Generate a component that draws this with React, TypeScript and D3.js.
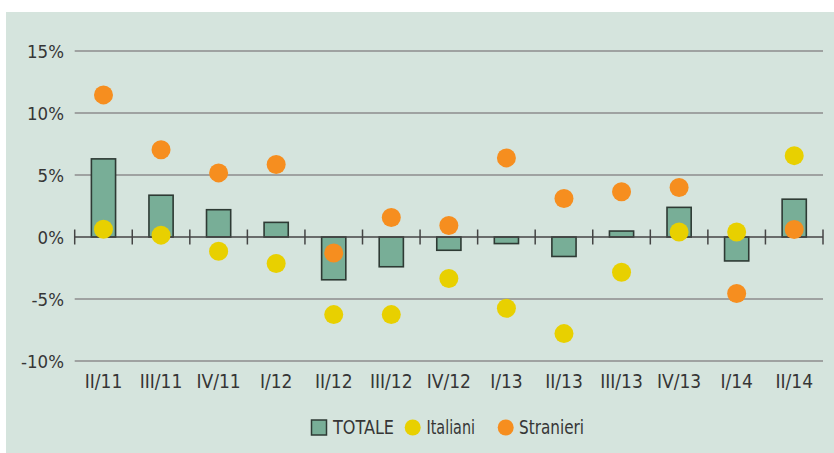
import React from "react";
import * as d3 from "d3";

const categories = ["II/11", "III/11", "IV/11", "I/12", "II/12", "III/12", "IV/12", "I/13", "II/13", "III/13", "IV/13", "I/14", "II/14"];
const totale = [6.3, 3.37, 2.2, 1.18, -3.45, -2.4, -1.07, -0.53, -1.57, 0.48, 2.39, -1.93, 3.05];
const italiani = [0.62, 0.15, -1.15, -2.14, -6.26, -6.26, -3.34, -5.75, -7.79, -2.84, 0.4, 0.4, 6.56];
const stranieri = [11.46, 7.04, 5.17, 5.84, -1.29, 1.58, 0.92, 6.38, 3.11, 3.65, 3.99, -4.55, 0.6];
const yTicks = [15, 10, 5, 0, -5, -10];
const legendLabels = ["TOTALE", "Italiani", "Stranieri"];

const W = 834;
const H = 453;
const FONT = "'Liberation Sans Narrow', 'DejaVu Sans Condensed', 'Liberation Sans', sans-serif";
const TEXT = "#363636";
const BG = "#d5e4dd";
const BAR = "#78ae97";
const YELLOW = "#e8d000";
const ORANGE = "#f68e1f";

export default function App() {
  const x = d3.scaleBand<string>().domain(categories).range([74.7, 823]).paddingInner(0).paddingOuter(0);
  const y = d3.scaleLinear().domain([-10, 15]).range([361, 51]);
  const bw = x.bandwidth() * 0.42;
  const r = 9.5;
  const cx = (c: string) => (x(c) as number) + x.bandwidth() / 2;
  const tickXs = categories.map((c) => x(c) as number).concat([x.range()[1]]);

  return (
    <svg width={W} height={H} style={{ position: "absolute", left: 0, top: 0 }}>
      <rect x={6} y={12} width={W - 6} height={H - 12} fill={BG} />
      {yTicks.filter((t) => t !== 0).map((t) => (
        <line key={t} x1={x.range()[0]} x2={x.range()[1]} y1={y(t)} y2={y(t)} stroke="#8c8c8c" strokeWidth={1.5} />
      ))}
      {yTicks.map((t) => (
        <text key={"l" + t} x={64} y={y(t) + 7} textAnchor="end" fontFamily={FONT} fontSize={18.5} fill={TEXT}>
          {t + "%"}
        </text>
      ))}
      {categories.map((c, i) => {
        const v = totale[i];
        const y0 = y(0);
        const y1 = y(v);
        return (
          <rect key={"b" + c} x={cx(c) - bw / 2} y={Math.min(y0, y1)} width={bw} height={Math.abs(y1 - y0)} fill={BAR} stroke="#2e3a34" strokeWidth={1.6} />
        );
      })}
      <line x1={x.range()[0]} x2={x.range()[1]} y1={y(0)} y2={y(0)} stroke="#444" strokeWidth={1.5} />
      {tickXs.map((tx, i) => (
        <line key={"t" + i} x1={tx} x2={tx} y1={y(0) - 7.5} y2={y(0) + 7.5} stroke="#444" strokeWidth={1.5} />
      ))}
      {categories.map((c, i) => (
        <circle key={"s" + c} cx={cx(c)} cy={y(stranieri[i])} r={r} fill={ORANGE} />
      ))}
      {categories.map((c, i) => (
        <circle key={"i" + c} cx={cx(c)} cy={y(italiani[i])} r={r} fill={YELLOW} />
      ))}
      {categories.map((c) => (
        <text key={"x" + c} x={cx(c)} y={388} textAnchor="middle" fontFamily={FONT} fontSize={19} fill={TEXT}>
          {c}
        </text>
      ))}
      <g fontFamily={FONT} fontSize={19} fill={TEXT}>
        <rect x={311.5} y={420} width={15} height={15} fill={BAR} stroke="#2e3a34" strokeWidth={1.5} />
        <text x={333} y={434} textLength={61} lengthAdjust="spacingAndGlyphs">{legendLabels[0]}</text>
        <circle cx={412.7} cy={427.5} r={8} fill={YELLOW} />
        <text x={426.5} y={434} textLength={48.5} lengthAdjust="spacingAndGlyphs">{legendLabels[1]}</text>
        <circle cx={505.7} cy={427.5} r={8} fill={ORANGE} />
        <text x={519} y={434} textLength={65} lengthAdjust="spacingAndGlyphs">{legendLabels[2]}</text>
      </g>
    </svg>
  );
}
